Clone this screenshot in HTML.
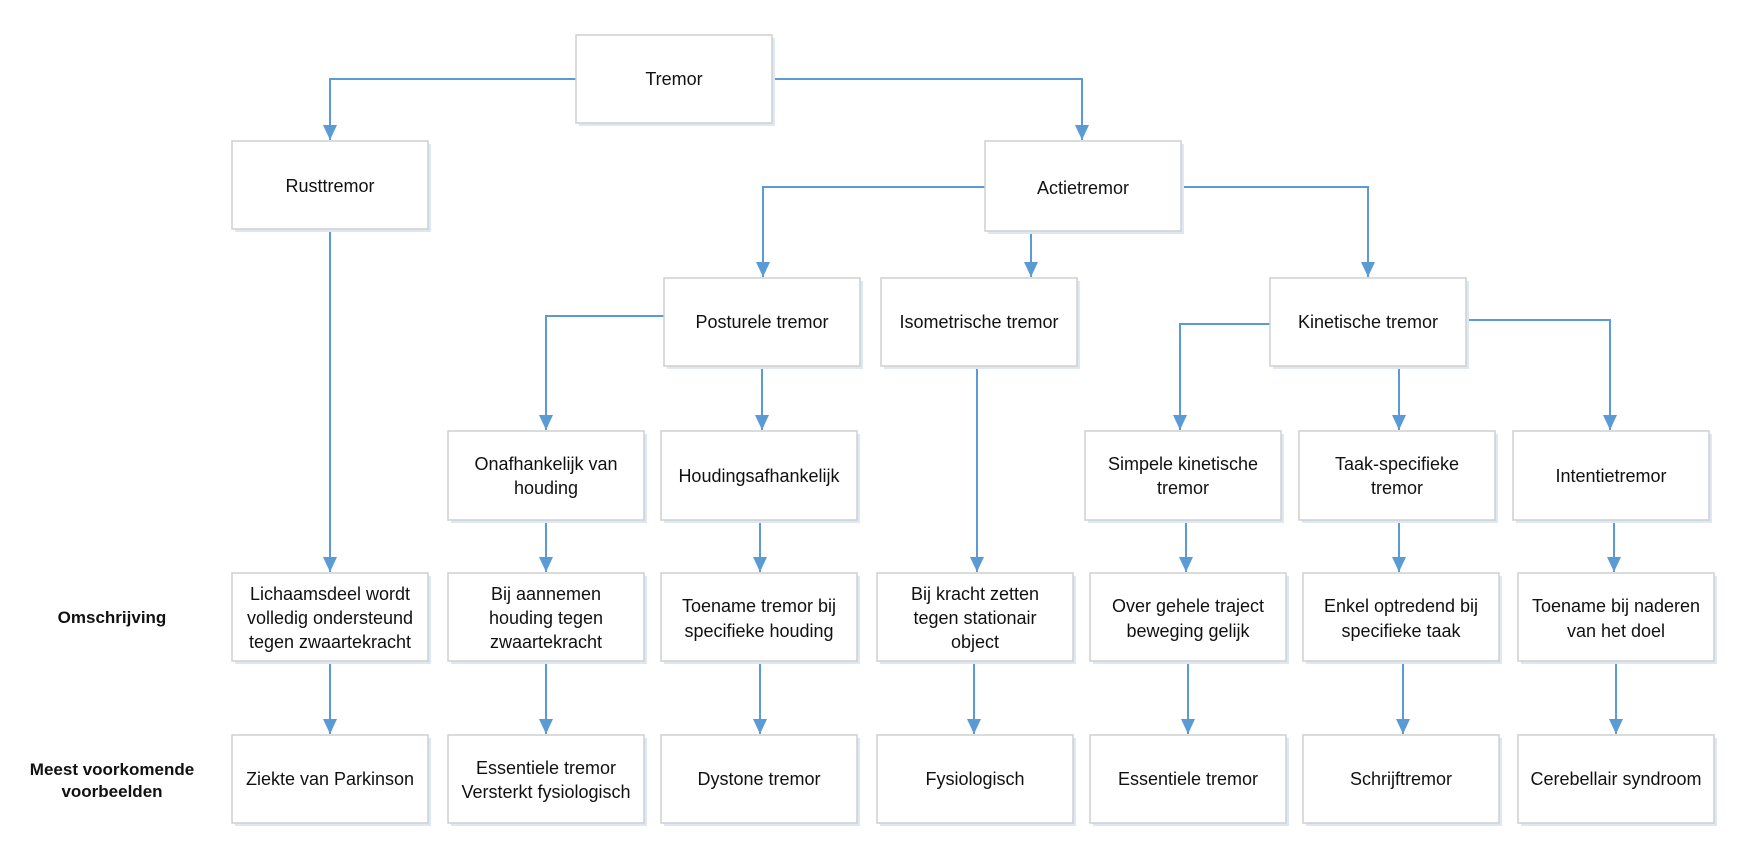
<!DOCTYPE html>
<html><head><meta charset="utf-8"><style>
html,body{margin:0;padding:0;background:#fff;}
svg{display:block;}
text{font-family:"Liberation Sans",sans-serif;font-size:18px;fill:#111;text-anchor:middle;}
.b{font-weight:bold;font-size:17px;}
rect.box{fill:#fff;stroke:#cfcfcf;stroke-width:1.5;}
rect.sh{fill:#dde8f4;}
.l{stroke:#5b9bd5;stroke-width:2;fill:none;}
</style></head><body>
<svg width="1744" height="852" viewBox="0 0 1744 852" xmlns="http://www.w3.org/2000/svg">
<defs><marker id="a" markerWidth="15" markerHeight="14" refX="15" refY="7" orient="auto" markerUnits="userSpaceOnUse" viewBox="0 0 15 14"><path d="M0,0 L15,7 L0,14 z" fill="#5b9bd5"/></marker></defs>
<g id="lines">
<path class="l" d="M576,79 H330 V140" marker-end="url(#a)"/>
<path class="l" d="M772,79 H1082 V140" marker-end="url(#a)"/>
<path class="l" d="M985,187 H763 V277" marker-end="url(#a)"/>
<path class="l" d="M1181,187 H1368 V277" marker-end="url(#a)"/>
<path class="l" d="M1031,230 V277" marker-end="url(#a)"/>
<path class="l" d="M664,316 H546 V430" marker-end="url(#a)"/>
<path class="l" d="M762,366 V430" marker-end="url(#a)"/>
<path class="l" d="M977,366 V572" marker-end="url(#a)"/>
<path class="l" d="M1270,324 H1180 V430" marker-end="url(#a)"/>
<path class="l" d="M1466,320 H1610 V430" marker-end="url(#a)"/>
<path class="l" d="M1399,366 V430" marker-end="url(#a)"/>
<path class="l" d="M330,229 V572" marker-end="url(#a)"/>
<path class="l" d="M546,520 V572" marker-end="url(#a)"/>
<path class="l" d="M760,520 V572" marker-end="url(#a)"/>
<path class="l" d="M1186,520 V572" marker-end="url(#a)"/>
<path class="l" d="M1399,520 V572" marker-end="url(#a)"/>
<path class="l" d="M1614,520 V572" marker-end="url(#a)"/>
<path class="l" d="M330,661 V734" marker-end="url(#a)"/>
<path class="l" d="M546,661 V734" marker-end="url(#a)"/>
<path class="l" d="M760,661 V734" marker-end="url(#a)"/>
<path class="l" d="M974,661 V734" marker-end="url(#a)"/>
<path class="l" d="M1188,661 V734" marker-end="url(#a)"/>
<path class="l" d="M1403,661 V734" marker-end="url(#a)"/>
<path class="l" d="M1616,661 V734" marker-end="url(#a)"/>
</g>
<g>
<rect class="sh" x="579" y="38" width="196" height="88"/><rect class="box" x="576" y="35" width="196" height="88"/><text x="674" y="85">Tremor</text>
<rect class="sh" x="235" y="144" width="196" height="88"/><rect class="box" x="232" y="141" width="196" height="88"/><text x="330" y="192">Rusttremor</text>
<rect class="sh" x="988" y="144" width="196" height="90"/><rect class="box" x="985" y="141" width="196" height="90"/><text x="1083" y="194">Actietremor</text>
<rect class="sh" x="667" y="281" width="196" height="88"/><rect class="box" x="664" y="278" width="196" height="88"/><text x="762" y="328">Posturele tremor</text>
<rect class="sh" x="884" y="281" width="196" height="88"/><rect class="box" x="881" y="278" width="196" height="88"/><text x="979" y="328">Isometrische tremor</text>
<rect class="sh" x="1273" y="281" width="196" height="88"/><rect class="box" x="1270" y="278" width="196" height="88"/><text x="1368" y="328">Kinetische tremor</text>

<rect class="sh" x="451" y="434" width="196" height="89"/><rect class="box" x="448" y="431" width="196" height="89"/><text x="546" y="470">Onafhankelijk van</text><text x="546" y="494">houding</text>
<rect class="sh" x="664" y="434" width="196" height="89"/><rect class="box" x="661" y="431" width="196" height="89"/><text x="759" y="482">Houdingsafhankelijk</text>
<rect class="sh" x="1088" y="434" width="196" height="89"/><rect class="box" x="1085" y="431" width="196" height="89"/><text x="1183" y="470">Simpele kinetische</text><text x="1183" y="494">tremor</text>
<rect class="sh" x="1302" y="434" width="196" height="89"/><rect class="box" x="1299" y="431" width="196" height="89"/><text x="1397" y="470">Taak-specifieke</text><text x="1397" y="494">tremor</text>
<rect class="sh" x="1516" y="434" width="196" height="89"/><rect class="box" x="1513" y="431" width="196" height="89"/><text x="1611" y="482">Intentietremor</text>

<rect class="sh" x="235" y="576" width="196" height="88"/><rect class="box" x="232" y="573" width="196" height="88"/><text x="330" y="600">Lichaamsdeel wordt</text><text x="330" y="624">volledig ondersteund</text><text x="330" y="648">tegen zwaartekracht</text>
<rect class="sh" x="451" y="576" width="196" height="88"/><rect class="box" x="448" y="573" width="196" height="88"/><text x="546" y="600">Bij aannemen</text><text x="546" y="624">houding tegen</text><text x="546" y="648">zwaartekracht</text>
<rect class="sh" x="664" y="576" width="196" height="88"/><rect class="box" x="661" y="573" width="196" height="88"/><text x="759" y="612">Toename tremor bij</text><text x="759" y="637">specifieke houding</text>
<rect class="sh" x="880" y="576" width="196" height="88"/><rect class="box" x="877" y="573" width="196" height="88"/><text x="975" y="600">Bij kracht zetten</text><text x="975" y="624">tegen stationair</text><text x="975" y="648">object</text>
<rect class="sh" x="1093" y="576" width="196" height="88"/><rect class="box" x="1090" y="573" width="196" height="88"/><text x="1188" y="612">Over gehele traject</text><text x="1188" y="637">beweging gelijk</text>
<rect class="sh" x="1306" y="576" width="196" height="88"/><rect class="box" x="1303" y="573" width="196" height="88"/><text x="1401" y="612">Enkel optredend bij</text><text x="1401" y="637">specifieke taak</text>
<rect class="sh" x="1521" y="576" width="196" height="88"/><rect class="box" x="1518" y="573" width="196" height="88"/><text x="1616" y="612">Toename bij naderen</text><text x="1616" y="637">van het doel</text>

<rect class="sh" x="235" y="738" width="196" height="88"/><rect class="box" x="232" y="735" width="196" height="88"/><text x="330" y="785">Ziekte van Parkinson</text>
<rect class="sh" x="451" y="738" width="196" height="88"/><rect class="box" x="448" y="735" width="196" height="88"/><text x="546" y="774">Essentiele tremor</text><text x="546" y="798">Versterkt fysiologisch</text>
<rect class="sh" x="664" y="738" width="196" height="88"/><rect class="box" x="661" y="735" width="196" height="88"/><text x="759" y="785">Dystone tremor</text>
<rect class="sh" x="880" y="738" width="196" height="88"/><rect class="box" x="877" y="735" width="196" height="88"/><text x="975" y="785">Fysiologisch</text>
<rect class="sh" x="1093" y="738" width="196" height="88"/><rect class="box" x="1090" y="735" width="196" height="88"/><text x="1188" y="785">Essentiele tremor</text>
<rect class="sh" x="1306" y="738" width="196" height="88"/><rect class="box" x="1303" y="735" width="196" height="88"/><text x="1401" y="785">Schrijftremor</text>
<rect class="sh" x="1521" y="738" width="196" height="88"/><rect class="box" x="1518" y="735" width="196" height="88"/><text x="1616" y="785">Cerebellair syndroom</text>

<text class="b" x="112" y="623">Omschrijving</text>
<text class="b" x="112" y="775">Meest voorkomende</text>
<text class="b" x="112" y="797">voorbeelden</text>
</g>
</svg>
</body></html>
